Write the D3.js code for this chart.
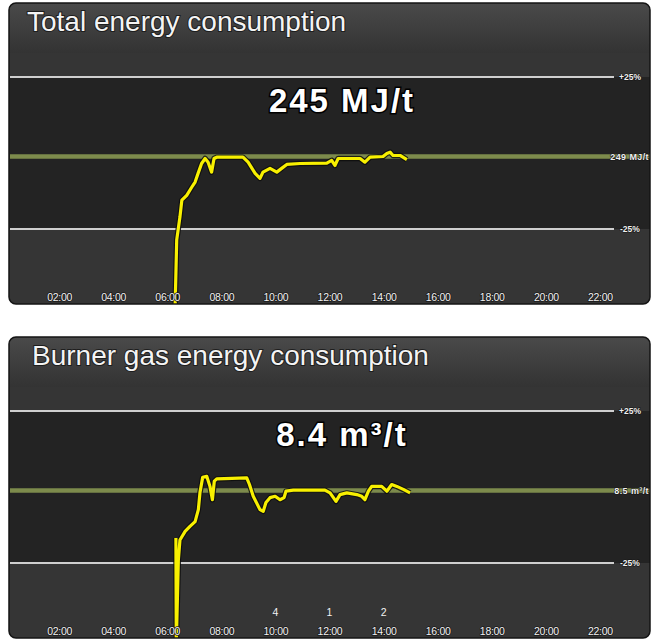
<!DOCTYPE html>
<html>
<head>
<meta charset="utf-8">
<script src="https://cdn.jsdelivr.net/npm/d3@7"></script>
<style>
  html, body { margin: 0; padding: 0; background: #ffffff; }
  svg { display: block; }
</style>
</head>
<body>
<svg id="chart" width="652" height="639"></svg>
<script>
// ---------------- DATA ----------------
const tickHours = [2, 4, 6, 8, 10, 12, 14, 16, 18, 20, 22];
const tickLabels = ["02:00", "04:00", "06:00", "08:00", "10:00", "12:00", "14:00", "16:00", "18:00", "20:00", "22:00"];

const panelTitles = ["Total energy consumption", "Burner gas energy consumption"];
const currentValueLabels = ["245 MJ/t", "8.4 m³/t"];
const targetValues = [249, 8.5];
const targetLabels = ["249 MJ/t", "8.5 m³/t"];
const bandLabels = ["+25%", "-25%"];

const totalEnergyHours = [6.28, 6.35, 6.47, 6.54, 6.72, 6.91, 7.03, 7.14, 7.27, 7.40, 7.51, 7.64, 7.73, 7.83,
  8.80, 8.99, 9.25, 9.43, 9.54, 9.80, 10.05, 10.23, 10.42, 10.91, 11.90, 12.08, 12.20, 12.32,
  13.13, 13.31, 13.50, 13.98, 14.12, 14.24, 14.35, 14.61, 14.86];
const totalEnergyValues = [110, 177.4, 197.2, 211.5, 215.7, 222.8, 227.1, 234.5, 243.0, 247.3, 244.1, 235.6, 247.3, 248.4,
  248.4, 244.1, 234.5, 230.2, 235.6, 238.8, 235.6, 238.8, 242.2, 243.0, 243.3, 245.6, 241.3, 247.3,
  247.3, 244.1, 248.4, 249.0, 251.4, 252.4, 249.8, 249.8, 246.4];

const burnerGasHours = [6.32, 6.335, 6.41, 6.47, 6.66, 6.84, 7.03, 7.15, 7.21, 7.31, 7.46, 7.58, 7.67, 7.74, 7.83,
  8.94, 9.04, 9.18, 9.43, 9.55, 9.65, 9.80, 9.99, 10.17, 10.32, 10.39, 10.66, 11.83, 12.02, 12.24, 12.39,
  12.64, 13.01, 13.19, 13.31, 13.44, 13.56, 13.93, 14.12, 14.30, 14.49, 14.73, 14.98];
const burnerGasValues = [7.11, 4.0, 6.46, 7.05, 7.30, 7.45, 7.59, 7.94, 8.44, 8.85, 8.88, 8.61, 8.23, 8.75, 8.81,
  8.84, 8.66, 8.33, 7.94, 7.89, 8.15, 8.29, 8.33, 8.23, 8.29, 8.48, 8.51, 8.51, 8.43, 8.18, 8.38,
  8.43, 8.38, 8.33, 8.23, 8.48, 8.61, 8.61, 8.48, 8.66, 8.61, 8.53, 8.43];

const eventHours = [10, 12, 14];
const eventCounts = ["4", "1", "2"];

// ---------------- LAYOUT ----------------
const svg = d3.select("#chart");
const panelX = 9, panelW = 641, panelH = 301;
const panelTops = [3, 337];
const x = d3.scaleLinear().domain([0, 24]).range([5, 654]);
const FONT = "Liberation Sans, Arial, sans-serif";

const defs = svg.append("defs");
const grad = defs.append("linearGradient").attr("id", "hdr").attr("x1", 0).attr("x2", 0).attr("y1", 0).attr("y2", 1);
grad.append("stop").attr("offset", "0%").attr("stop-color", "#4a4a4a");
grad.append("stop").attr("offset", "100%").attr("stop-color", "#333333");

const series = [
  { hours: totalEnergyHours, values: totalEnergyValues },
  { hours: burnerGasHours, values: burnerGasValues }
];

panelTops.forEach((top, i) => {
  const g = svg.append("g").attr("transform", `translate(0,${top})`);
  const target = targetValues[i];
  const y = d3.scaleLinear()
    .domain([target * 0.75, target, target * 1.25])
    .range([226, 153.5, 74]);

  const clipId = "clip" + i;
  defs.append("clipPath").attr("id", clipId)
    .append("rect").attr("x", panelX).attr("y", 0).attr("width", panelW).attr("height", panelH).attr("rx", 7);

  // panel background
  g.append("rect").attr("x", panelX).attr("y", 0).attr("width", panelW).attr("height", panelH)
    .attr("rx", 7).attr("fill", "#353535");
  const inner = g.append("g").attr("clip-path", `url(#${clipId})`);
  inner.append("rect").attr("x", panelX).attr("y", 0).attr("width", panelW).attr("height", 50)
    .attr("fill", "url(#hdr)");
  // dark band between +25% and -25%
  inner.append("rect").attr("x", panelX).attr("y", y(target * 1.25))
    .attr("width", panelW).attr("height", y(target * 0.75) - y(target * 1.25))
    .attr("fill", "#232323");

  // reference lines
  [target * 1.25, target * 0.75].forEach(v => {
    inner.append("line").attr("x1", panelX + 1).attr("x2", 614)
      .attr("y1", y(v)).attr("y2", y(v))
      .attr("stroke", "#cfcfcf").attr("stroke-width", 2);
  });
  inner.append("line").attr("x1", panelX + 1).attr("x2", panelX + panelW)
    .attr("y1", y(target)).attr("y2", y(target))
    .attr("stroke", "#7d8b4c").attr("stroke-width", 4.5);

  // right labels
  const rl = g.append("g").attr("font-family", FONT)
    .attr("font-weight", "bold").attr("fill", "#f0f0f0")
    .attr("stroke", "#151515").attr("stroke-width", 1.2).attr("paint-order", "stroke");
  rl.append("text").attr("x", 619).attr("y", y(target * 1.25) + 3).attr("font-size", 8.5).text(bandLabels[0]);
  rl.append("text").attr("x", 620).attr("y", y(target * 0.75) + 3).attr("font-size", 8.5).text(bandLabels[1]);
  rl.append("text").attr("x", 649).attr("text-anchor", "end").attr("y", y(target) + 3)
    .attr("font-size", 9).attr("letter-spacing", 0.4).text(targetLabels[i]);

  // x axis labels
  const axis = d3.axisBottom(x).tickValues(tickHours).tickSize(0)
    .tickFormat((d, k) => tickLabels[k]);
  const ag = g.append("g").attr("transform", "translate(0,288)").call(axis);
  ag.select(".domain").remove();
  ag.selectAll("text").attr("font-family", FONT)
    .attr("font-size", 10.5).attr("fill", "#f2f2f2").attr("letter-spacing", -0.3)
    .attr("stroke", "#1a1a1a").attr("stroke-width", 1.5).attr("paint-order", "stroke");

  // event counts (bottom panel)
  if (i === 1) {
    g.append("g").selectAll("text").data(eventHours).join("text")
      .attr("x", d => x(d)).attr("y", 279).attr("text-anchor", "middle")
      .attr("font-family", FONT).attr("font-size", 10.5)
      .attr("fill", "#f2f2f2").text((d, k) => eventCounts[k]);
  }

  // data line
  const s = series[i];
  const pts = s.hours.map((h, k) => [h, s.values[k]]);
  const line = d3.line().x(d => x(d[0])).y(d => y(d[1]));
  inner.append("path").attr("d", line(pts)).attr("fill", "none")
    .attr("stroke", "#0d0d0d").attr("stroke-width", 5.5).attr("stroke-linejoin", "round").attr("opacity", 0.85);
  inner.append("path").attr("d", line(pts)).attr("fill", "none")
    .attr("stroke", "#f8f000").attr("stroke-width", 3.2).attr("stroke-linejoin", "round");

  // panel border
  g.append("rect").attr("x", panelX).attr("y", 0).attr("width", panelW).attr("height", panelH)
    .attr("rx", 7).attr("fill", "none").attr("stroke", "#141414").attr("stroke-width", 1.5);

  // title
  g.append("text").attr("x", i === 0 ? 27 : 32).attr("y", 28)
    .attr("font-family", FONT).attr("font-size", 28)
    .attr("fill", "#f4f4f4").attr("stroke", "#1e1e1e").attr("stroke-width", 2).attr("paint-order", "stroke")
    .text(panelTitles[i]);

  // current value
  g.append("text").attr("x", 342).attr("y", 109).attr("text-anchor", "middle")
    .attr("font-family", FONT).attr("font-size", 33)
    .attr("font-weight", "bold").attr("letter-spacing", 2)
    .attr("fill", "#ffffff").attr("stroke", "#000").attr("stroke-width", 3).attr("paint-order", "stroke")
    .text(currentValueLabels[i]);
});
</script>
</body>
</html>
